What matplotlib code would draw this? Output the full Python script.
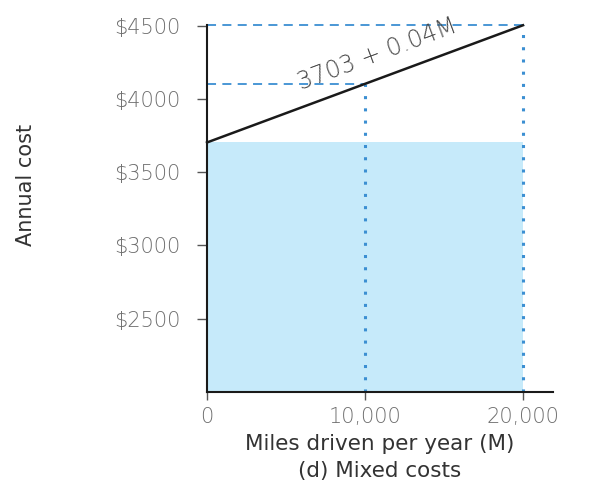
import numpy as np
import matplotlib
matplotlib.use("Agg")
import matplotlib.pyplot as plt
from matplotlib import font_manager

# mixed cost: fixed part plus a per-mile part
fixed_cost = 3703
cost_per_mile = 0.04
miles = np.array([0, 10000, 20000])
annual_cost = fixed_cost + cost_per_mile * miles

y_ticks = [2500, 3000, 3500, 4000, 4500]
y_tick_labels = [r"\$2500", r"\$3000", r"\$3500", r"\$4000", r"\$4500"]
x_ticks = [0, 10000, 20000]
x_tick_labels = ["0", "10,000", "20,000"]

installed = {f.name for f in font_manager.fontManager.ttflist}
narrow = "Liberation Sans Narrow" if "Liberation Sans Narrow" in installed else "DejaVu Sans"

fill_color = "#c6eafa"
guide_color = "#3b8fd2"
tick_gray = "#6e6e6e"

y_min, y_max = 2000, 4505

fig = plt.figure(figsize=(6, 4.99), dpi=100)
ax = fig.add_axes([0.345, 0.2144, 0.5767, 0.7356])

# fixed-cost block
ax.fill_between([0, miles[-1]], [fixed_cost, fixed_cost], y_min, color=fill_color, lw=0, zorder=1)

# guide lines to the cost line
for m, c in zip(miles[1:], annual_cost[1:]):
    ax.plot([0, m], [c, c], color=guide_color, lw=1.3, ls=(0, (5, 3.5)), zorder=2, clip_on=False)
    ax.plot([m, m], [y_min, c], color=guide_color, lw=2.2, ls=(0, (1, 3)), zorder=2, clip_on=False)

ax.plot(miles, annual_cost, color="#1a1a1a", lw=1.8, zorder=3, clip_on=False)

mid = 10800
ax.text(mid, fixed_cost + cost_per_mile * mid + 170, "3703 + 0.04M",
        rotation=np.degrees(np.arctan(cost_per_mile)), transform_rotates_text=True,
        rotation_mode="anchor", ha="center", va="center",
        fontsize=17, color="#4a4a4a", fontweight="light", zorder=4)

ax.set_xlim(0, 21900)
ax.set_ylim(y_min, y_max)

ax.set_yticks(y_ticks)
ax.set_yticklabels(y_tick_labels, color=tick_gray, fontsize=15, fontweight="light")
ax.set_xticks(x_ticks)
ax.set_xticklabels(x_tick_labels, color=tick_gray, fontsize=15, fontweight="light")
ax.tick_params(axis="y", length=7, width=1, color="#555555", pad=12)
ax.tick_params(axis="x", length=6, width=1, color="#555555", pad=5)

for side in ["top", "right"]:
    ax.spines[side].set_visible(False)
for side in ["left", "bottom"]:
    ax.spines[side].set_linewidth(1.5)
    ax.spines[side].set_color("#1a1a1a")

ax.set_ylabel("Annual cost", family=narrow, fontsize=15, color="#333333")
ax.yaxis.set_label_coords(-0.494, 0.564)

ax.set_xlabel("Miles driven per year (M)\n(d) Mixed costs", fontsize=15.5,
              color="#333333", linespacing=1.45, labelpad=5)

fig.savefig("out.png", dpi=100)
